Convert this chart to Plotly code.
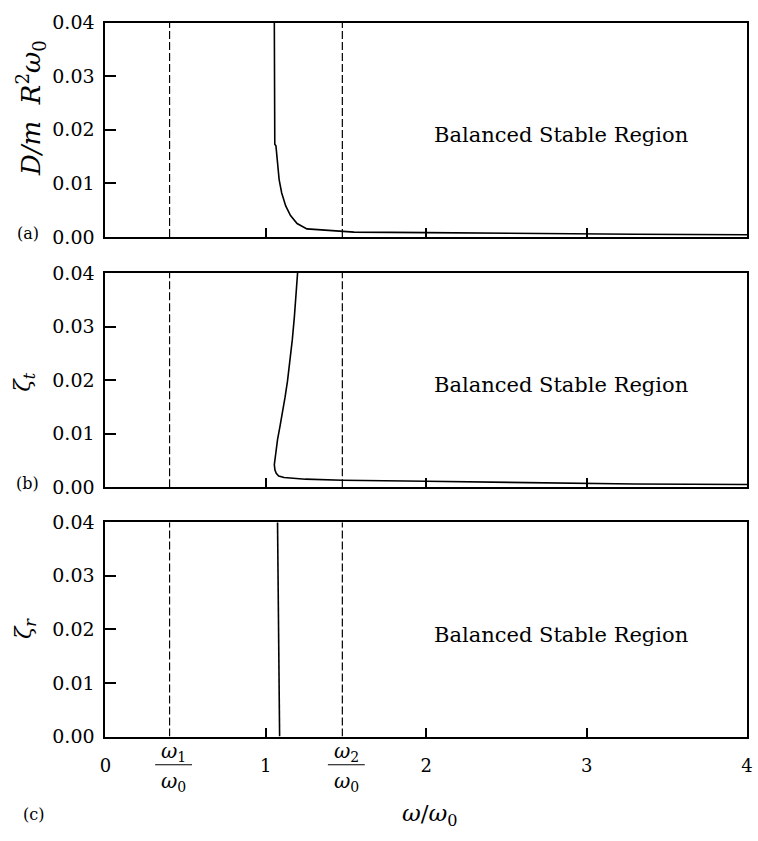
import plotly.graph_objects as go

# ---- data ----
x_range = [0, 4]
y_range = [0, 0.04]
omega1 = 0.40   # omega_1 / omega_0
omega2 = 1.477  # omega_2 / omega_0

# (a) D / m R^2 omega_0
a_x = [1.053, 1.056, 1.063, 1.073, 1.083, 1.099, 1.124, 1.154, 1.195, 1.256, 1.474, 1.55, 2.0, 2.68, 3.3, 4.0]
a_y = [0.040, 0.0173, 0.0170, 0.0131, 0.0107, 0.0082, 0.0058, 0.0040, 0.0025, 0.0015, 0.0011, 0.0009, 0.0008, 0.0006, 0.0005, 0.0004]

# (b) zeta_t
b_x = [1.198, 1.189, 1.178, 1.165, 1.150, 1.135, 1.120, 1.104, 1.088, 1.073, 1.062, 1.054, 1.053, 1.057, 1.065, 1.080, 1.114, 1.247, 1.477, 2.0, 2.7, 3.3, 4.0]
b_y = [0.040, 0.036, 0.0318, 0.0275, 0.0235, 0.0198, 0.0168, 0.0138, 0.0113, 0.0089, 0.0068, 0.0052, 0.0042, 0.0032, 0.0026, 0.0021, 0.0018, 0.0015, 0.0013, 0.0011, 0.0008, 0.0006, 0.0005]

# (c) zeta_r
c_x = [1.073, 1.086]
c_y = [0.040, 0.000]

x_tickvals = [0, 1, 2, 3, 4]
x_ticktext = ["0", "1", "2", "3", "4"]
y_tickvals = [0, 0.01, 0.02, 0.03, 0.04]

region_label = "Balanced Stable Region"
region_pos = (2.84, 0.019)

panel_labels = ["(a)", "(b)", "(c)"]
y_titles = ["<i>D/m</i>\u00a0\u00a0<i>R</i><sup>2</sup><i>ω</i><sub>0</sub>",
            "<i>ζ</i><sub><i>t</i></sub>",
            "<i>ζ</i><sub><i>r</i></sub>"]

# ---- layout geometry ----
W, H = 758, 841
FONT = "DejaVu Serif"
xdom = [101 / W, 753 / W]
panels_px = [(12, 232), (269, 489), (525, 745)]
ydoms = [[1 - b / H, 1 - t / H] for (t, b) in panels_px]

fig = go.Figure()
curves = [(a_x, a_y), (b_x, b_y), (c_x, c_y)]
for i, (cx, cy) in enumerate(curves):
    n = "" if i == 0 else str(i + 1)
    xa, ya = "x" + n, "y" + n
    for om in (omega1, omega2):
        fig.add_trace(go.Scatter(x=[om, om], y=y_range, mode="lines", xaxis=xa, yaxis=ya,
                                 line=dict(color="black", width=1.2, dash="8px,3px"),
                                 showlegend=False, hoverinfo="skip"))
    fig.add_trace(go.Scatter(x=cx, y=cy, mode="lines", xaxis=xa, yaxis=ya,
                             line=dict(color="black", width=1.6),
                             showlegend=False))

layout = dict(
    width=W, height=H,
    margin=dict(l=0, r=0, t=0, b=0),
    paper_bgcolor="white", plot_bgcolor="white",
    font=dict(family=FONT, color="black"),
    showlegend=False,
)
for i in range(3):
    n = "" if i == 0 else str(i + 1)
    layout["xaxis" + n] = dict(
        domain=xdom, range=x_range, anchor="y" + n,
        showgrid=False, zeroline=False,
        showline=True, mirror=True, linecolor="black", linewidth=2,
        ticks="inside", ticklen=9, tickwidth=2, tickcolor="black",
        tickvals=[1, 2, 3],
        showticklabels=False,
    )
    layout["yaxis" + n] = dict(
        domain=ydoms[i], range=y_range, anchor="x" + n,
        showgrid=False, zeroline=False,
        showline=True, mirror=True, linecolor="black", linewidth=2,
        ticks="inside", ticklen=11, tickwidth=2, tickcolor="black",
        tickvals=y_tickvals, tickformat=".2f",
        tickfont=dict(family=FONT, size=19, color="black"),
        ticklabelstandoff=5,
    )

layout["xaxis3"].update(
    showticklabels=True,
    tickvals=x_tickvals, ticktext=x_ticktext,
    tickfont=dict(family=FONT, size=18, color="black"),
    ticklabelstandoff=12,
    ticklabeloverflow="allow",
)
layout["xaxis3"]["ticklen"] = 0
layout["xaxis3"]["minor"] = dict(tickvals=[1, 2, 3], ticks="inside", ticklen=9,
                                 tickwidth=2, tickcolor="black", showgrid=False)

fig.update_layout(**layout)

ann = []
for i in range(3):
    n = "" if i == 0 else str(i + 1)
    ann.append(dict(x=region_pos[0], y=region_pos[1], xref="x" + n, yref="y" + n,
                    text=region_label, showarrow=False,
                    font=dict(family=FONT, size=21, color="black"),
                    xanchor="center", yanchor="middle"))

ytitle_pos = [(25, 100, 26), (18, 381, 23), (20, 634, 23)]
for (px, py, fs), t in zip(ytitle_pos, y_titles):
    ann.append(dict(x=px / W, y=1 - py / H, xref="paper", yref="paper", text=t,
                    showarrow=False, textangle=-90,
                    font=dict(family=FONT, size=fs, color="black"),
                    xanchor="center", yanchor="middle"))

label_pos = [(22, 228), (22, 485), (28, 825)]
for (px, py), t in zip(label_pos, panel_labels):
    ann.append(dict(x=px / W, y=1 - py / H, xref="paper", yref="paper", text=t,
                    showarrow=False, font=dict(family=FONT, size=16, color="black"),
                    xanchor="center", yanchor="middle"))

ann.append(dict(x=2.0, y=1 - 826 / H, xref="x3", yref="paper",
                text="<i>ω</i>/<i>ω</i><sub>0</sub>", showarrow=False,
                font=dict(family=FONT, size=23, color="black"),
                xanchor="center", yanchor="middle", xshift=4))

shapes = []
for om, num in ((omega1, "1"), (omega2, "2")):
    ann.append(dict(x=om, y=1 - 761 / H, xref="x3", yref="paper",
                    text="<i>ω</i><sub>" + num + "</sub>", showarrow=False,
                    font=dict(family=FONT, size=20, color="black"),
                    xanchor="center", yanchor="middle", xshift=4))
    ann.append(dict(x=om, y=1 - 792 / H, xref="x3", yref="paper",
                    text="<i>ω</i><sub>0</sub>", showarrow=False,
                    font=dict(family=FONT, size=20, color="black"),
                    xanchor="center", yanchor="middle", xshift=4))
    shapes.append(dict(type="line", xref="x3", yref="paper",
                       x0=om - 0.09, x1=om + 0.14, y0=1 - 774 / H, y1=1 - 774 / H,
                       line=dict(color="black", width=1)))

fig.update_layout(annotations=ann, shapes=shapes)
fig.write_html("out.html")
